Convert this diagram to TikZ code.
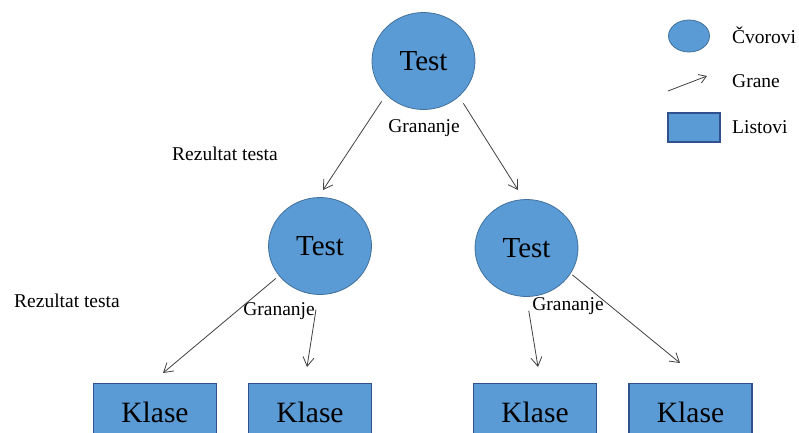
\documentclass[tikz,border=0pt]{standalone}
\usepackage{fontspec}
\setmainfont{Liberation Serif}
\usetikzlibrary{shapes.geometric,arrows.meta}
\definecolor{cvor}{RGB}{91,155,213}
\definecolor{cvorrub}{RGB}{65,113,156}
\definecolor{listrub}{RGB}{47,82,143}
\definecolor{grana}{RGB}{64,64,64}
\begin{document}
\begin{tikzpicture}[x=1pt,y=-1pt,
  cvornode/.style={ellipse,draw=cvorrub,fill=cvor,line width=0.8pt,inner sep=0pt,
    minimum width=103pt,minimum height=97pt,font=\fontsize{29}{32}\selectfont},
  listnode/.style={rectangle,draw=listrub,fill=cvor,line width=1.6pt,inner sep=0pt,
    minimum width=123pt,minimum height=57pt,font=\fontsize{29.5}{32}\selectfont},
  txt/.style={inner sep=0pt,font=\fontsize{19.5}{22}\selectfont},
  arr/.style={draw=grana,line width=0.8pt,-{Straight Barb[length=9pt,width=11pt]}}]
\clip (0,0) rectangle (799,432);

\node[cvornode] (t) at (423.5,61) {Test};
\node[cvornode] (l) at (320,246) {Test};
\node[cvornode] (r) at (526.5,248) {Test};

\node[listnode] (k1) at (155,412) {Klase};
\node[listnode] (k2) at (310,412) {Klase};
\node[listnode] (k3) at (535,412) {Klase};
\node[listnode] (k4) at (690.5,412) {Klase};

\node[txt] (gt) at (424,128) {Grananje};
\node[txt] (gl) at (279,311) {Grananje};
\node[txt] (gr) at (568,306) {Grananje};
\node[txt] (rt) at (225,154) {Rezultat testa};
\node[txt] (rl) at (67,301) {Rezultat testa};

\coordinate (e1) at (323,190);
\coordinate (e2) at (518,190);
\coordinate (e3) at (163,373);
\coordinate (e4) at (307,367);
\coordinate (e5) at (538,367);
\coordinate (e6) at (680,363);

\draw [arr,shorten <=8pt] (t.222) -- (e1);
\draw [arr,shorten <=8pt] (t.-45) -- (e2);
\draw [arr,shorten <=4pt] (l.216) -- (e3);
\draw [arr,shorten <=15pt] (l.268) -- (e4);
\draw [arr,shorten <=14pt] (r.270) -- (e5);
\draw [arr,shorten <=2pt] (r.-30) -- (e6);

\node[ellipse,draw=cvorrub,fill=cvor,line width=0.8pt,inner sep=0pt,
  minimum width=41pt,minimum height=32pt] (lc) at (689,36) {};
\coordinate (ga) at (668,91);
\coordinate (gb) at (707,76);
\draw [arr,-{Straight Barb[length=7pt,width=9pt]}] (ga) -- (gb);
\node[rectangle,draw=listrub,fill=cvor,line width=1.6pt,inner sep=0pt,
  minimum width=52pt,minimum height=29pt] (lr) at (694,127.5) {};

\node[txt,anchor=west] (tc) at (732,35) {Čvorovi};
\node[txt,anchor=west] (tg) at (732,81) {Grane};
\node[txt,anchor=west] (tl) at (732,127) {Listovi};
\end{tikzpicture}
\end{document}
